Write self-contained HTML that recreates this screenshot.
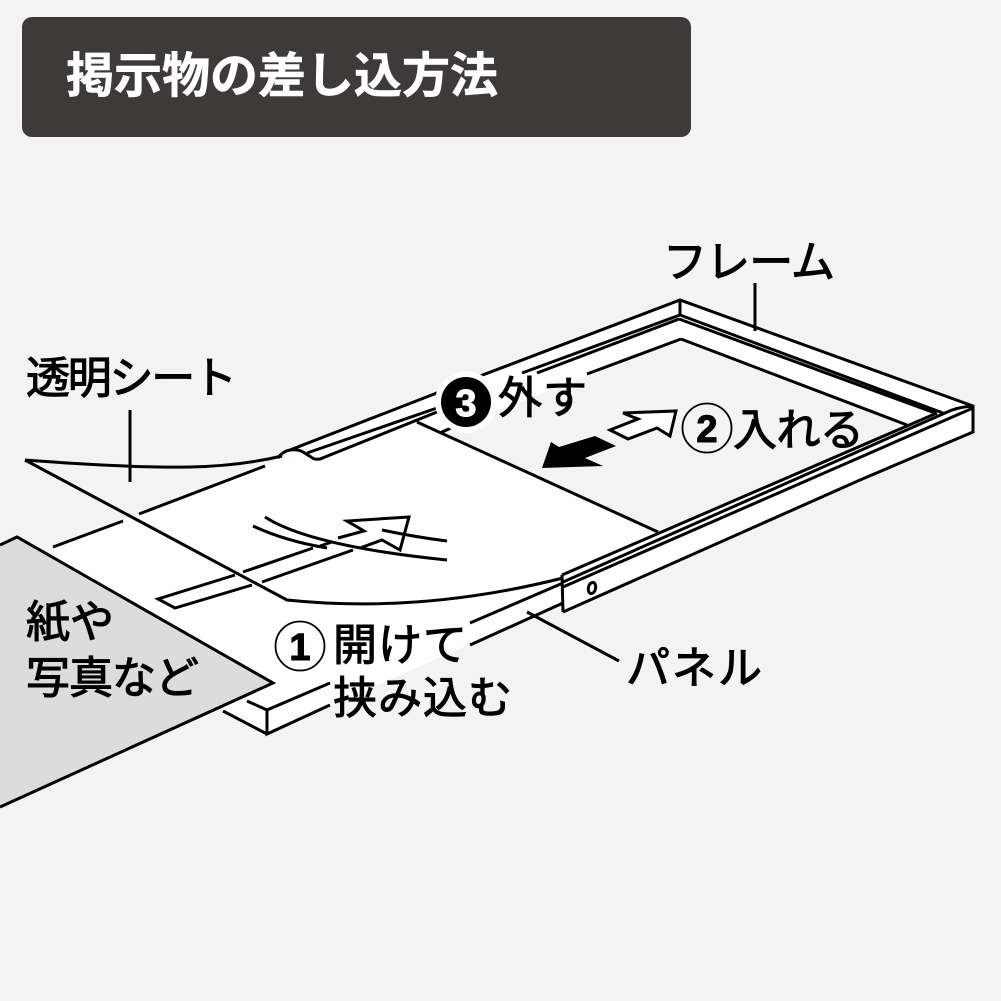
<!DOCTYPE html>
<html lang="ja"><head><meta charset="utf-8"><title>掲示物の差し込方法</title>
<style>
html,body{margin:0;padding:0;background:#f3f3f3}
svg{display:block}
text{font-family:"Liberation Sans","Noto Sans CJK JP",sans-serif;fill:#000;stroke:#000;stroke-width:1.1}
.l{fill:none;stroke:#000;stroke-width:3;stroke-linejoin:miter;stroke-linecap:butt}
.t{font-size:44px}
</style></head><body>
<svg width="1001" height="1001" viewBox="0 0 1001 1001" xmlns="http://www.w3.org/2000/svg">
<rect width="1001" height="1001" fill="#f3f3f3"/>
<rect x="22" y="17" width="669" height="120" rx="10" fill="#3e3a39"/>
<text x="66" y="92" font-size="48" font-weight="700" textLength="432" style="fill:#fff;stroke:#fff;stroke-width:.6">掲示物の差し込方法</text>

<!-- white fills -->
<polygon fill="#fff" points="680,300 973,406 945,413 907,425 681,339 440,433 417,422 320,459 283,458 290,450"/>
<polygon fill="#fff" points="562,575 937,413 973,406 973,432 563,612"/>
<polygon fill="#fff" points="53,547 139,514 265,466 280,458 320,459 417,422 658,532 563,583 563,603 267,734 223,711 60,575"/>

<!-- gray paper -->
<polygon points="0,545 17,537 273,683 0,807" fill="#dcdcdc"/>
<polyline class="l" points="0,545 17,537 273,683 0,807"/>

<!-- frame -->
<g class="l">
<path d="M290 450L442 391M480 376L680 300L973 406V432L860 480"/>
<path d="M680 300V315L943 413M679 319L935 413M681 339L907 425"/>
<path d="M307 453L437 408M522 373L680 315M320 459L437 412M537 373L679 319M440 433L453 427M587 374L681 339"/>
<path d="M278 458Q283 451 290 450Q298 449 303 452L311 457Q316 461 323 458"/>
<path d="M417 422L658 532"/>
<path d="M562 575L937 413M563 582L945 413Q957 407 973 406M563 587L973 408M563 612L860 480M562 575L563 612"/>
<path d="M563 583L470 623M563 603L470 645M330 683L267 710V734L330 705M267 710L247 701M267 734L223 711"/>
<ellipse cx="592" cy="588" rx="3.6" ry="5.6" transform="rotate(12 592 588)"/>
<!-- sheet -->
<path d="M25 460Q130 468 190 467Q240 466 282 456M25 460L287 600Q420 614 563 578"/>
<path d="M265 466L139 514M123 521L53 547"/>
<!-- arrow on sheet -->
<path d="M235 575L158 599L175 608L252 585M243 572L313 548M320 546L332 542M338 538L364 531L347 521L409 517L400 550L382 540L360 548M353 550L262 582"/>
<path d="M265 517Q310 546 447 560M253 526Q285 541 327 548M382 530Q415 537 447 541"/>
<path d="M130 410V482M755 283V331M527 612L619 661"/>
</g>
<!-- arrows -->
<polygon points="542,468 551,442 559,447 595,436 616,446 585,458 603,466" fill="#000"/>
<polygon class="l" style="fill:#fff" points="610,430 638,419 623,413 676,411 670,436 657,428 628,439"/>

<!-- labels -->
<text class="t" x="663" y="277" textLength="172">フレーム</text>
<text class="t" x="26" y="393" textLength="211">透明シート</text>
<text class="t" x="498" y="413" textLength="89">外す</text>
<circle cx="466" cy="402" r="31" fill="#fff"/>
<circle cx="466" cy="402" r="25" fill="#000"/>
<text x="466" y="416" font-size="38" font-weight="700" text-anchor="middle" style="fill:#fff;stroke:#fff;stroke-width:1">3</text>
<circle cx="707" cy="428" r="24.5" fill="#f3f3f3" stroke="#000" stroke-width="1.8"/>
<text x="707" y="442" font-size="38" font-weight="700" text-anchor="middle">2</text>
<text class="t" x="733" y="445" textLength="131">入れる</text>
<text class="t" x="626" y="683" textLength="136">パネル</text>
<text class="t" x="26" y="637" textLength="88">紙や</text>
<text class="t" x="26" y="693" textLength="173">写真など</text>
<circle cx="300" cy="646" r="24.5" fill="#fff" stroke="#000" stroke-width="1.8"/>
<text x="300" y="660" font-size="38" font-weight="700" text-anchor="middle">1</text>
<text class="t" x="333" y="660" textLength="134">開けて</text>
<text class="t" x="333" y="713" textLength="179">挟み込む</text>
</svg>
</body></html>
